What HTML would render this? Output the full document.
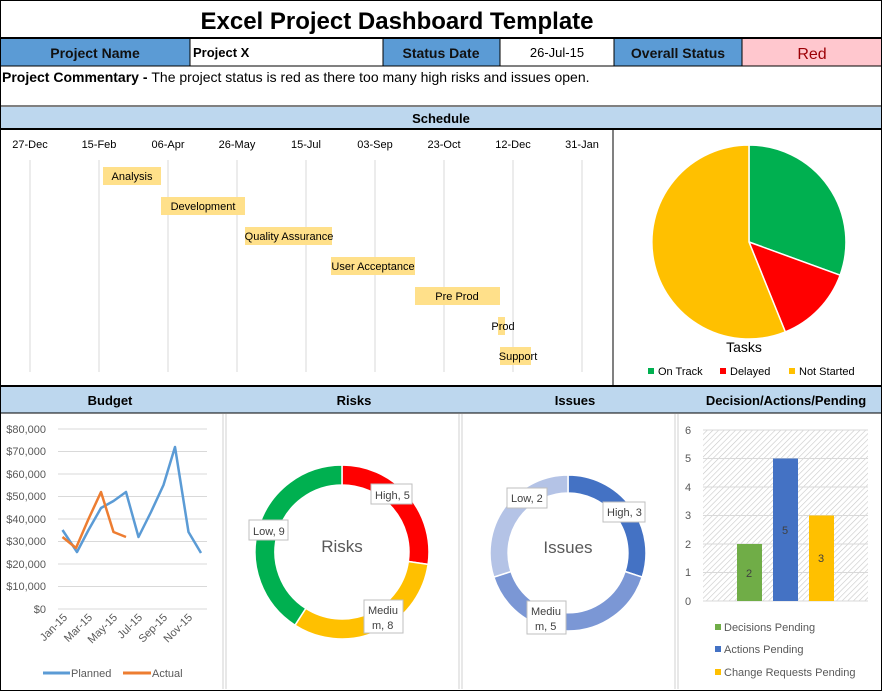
<!DOCTYPE html>
<html><head><meta charset="utf-8"><style>
body{margin:0;background:#fff}
svg{display:block;font-family:"Liberation Sans",sans-serif}
</style></head><body>
<svg width="882" height="691" viewBox="0 0 882 691" xmlns="http://www.w3.org/2000/svg">
<defs>
<pattern id="hatch" width="4" height="4" patternUnits="userSpaceOnUse" patternTransform="rotate(45)">
<rect width="4" height="4" fill="#fff"/><line x1="0" y1="0" x2="0" y2="4" stroke="#c8c8c8" stroke-width="1.2"/>
</pattern>
</defs>
<rect width="882" height="691" fill="#fff"/>
<!-- title -->
<text x="397" y="29" font-size="24" font-weight="bold" text-anchor="middle" fill="#000">Excel Project Dashboard Template</text>
<line x1="0" y1="38" x2="882" y2="38" stroke="#000" stroke-width="2"/>
<!-- header row -->
<rect x="0" y="39" width="190" height="27" fill="#5b9bd5"/>
<rect x="383" y="39" width="117" height="27" fill="#5b9bd5"/>
<rect x="614" y="39" width="128" height="27" fill="#5b9bd5"/>
<rect x="742" y="39" width="140" height="27" fill="#ffc7ce"/>
<g stroke="#000" stroke-width="1"><line x1="190" y1="38" x2="190" y2="66"/><line x1="383" y1="38" x2="383" y2="66"/><line x1="500" y1="38" x2="500" y2="66"/><line x1="614" y1="38" x2="614" y2="66"/><line x1="742" y1="38" x2="742" y2="66"/></g>
<line x1="0" y1="66" x2="882" y2="66" stroke="#000"/>
<g font-size="14" font-weight="bold" fill="#111" text-anchor="middle">
<text x="95" y="58">Project Name</text><text x="441" y="58">Status Date</text><text x="678" y="58">Overall Status</text></g>
<text x="193" y="57" font-size="13" font-weight="bold">Project X</text>
<text x="557" y="57" font-size="13" text-anchor="middle">26-Jul-15</text>
<text x="812" y="59" font-size="16" text-anchor="middle" fill="#9c0006">Red</text>
<text x="2" y="82" font-size="14"><tspan font-weight="bold">Project Commentary - </tspan>The project status is red as there too many high risks and issues open.</text>
<!-- schedule header -->
<line x1="0" y1="106" x2="882" y2="106" stroke="#000"/>
<rect x="0" y="107" width="882" height="22" fill="#bdd7ee"/>
<text x="441" y="123" font-size="13" font-weight="bold" text-anchor="middle">Schedule</text>
<line x1="0" y1="129" x2="882" y2="129" stroke="#000" stroke-width="2"/>
<line x1="613" y1="129" x2="613" y2="386" stroke="#000"/>
<!-- gantt -->
<g stroke="#d9d9d9"><line x1="30" y1="160" x2="30" y2="372"/><line x1="99" y1="160" x2="99" y2="372"/><line x1="168" y1="160" x2="168" y2="372"/><line x1="237" y1="160" x2="237" y2="372"/><line x1="306" y1="160" x2="306" y2="372"/><line x1="375" y1="160" x2="375" y2="372"/><line x1="444" y1="160" x2="444" y2="372"/><line x1="513" y1="160" x2="513" y2="372"/><line x1="582" y1="160" x2="582" y2="372"/></g>
<g font-size="11" text-anchor="middle" fill="#000"><text x="30" y="148">27-Dec</text><text x="99" y="148">15-Feb</text><text x="168" y="148">06-Apr</text><text x="237" y="148">26-May</text><text x="306" y="148">15-Jul</text><text x="375" y="148">03-Sep</text><text x="444" y="148">23-Oct</text><text x="513" y="148">12-Dec</text><text x="582" y="148">31-Jan</text></g>
<g fill="#ffe08a"><rect x="103" y="167" width="58" height="18"/><rect x="161" y="197" width="84" height="18"/><rect x="245" y="227" width="87" height="18"/><rect x="331" y="257" width="84" height="18"/><rect x="415" y="287" width="85" height="18"/><rect x="498" y="317" width="7" height="18"/><rect x="500" y="347" width="31" height="18"/></g>
<g font-size="11" text-anchor="middle" fill="#000"><text x="132" y="180">Analysis</text><text x="203" y="210">Development</text><text x="289" y="240">Quality Assurance</text><text x="373" y="270">User Acceptance</text><text x="457" y="300">Pre Prod</text><text x="503" y="330">Prod</text><text x="518" y="360">Support</text></g>
<!-- pie -->
<g transform="translate(749,242)">
<path d="M0,0 L0,-97 A97,97 0 0 1 91.1,33.2 Z" fill="#00b050" stroke="#fff" stroke-width="1.5"/>
<path d="M0,0 L91.1,33.2 A97,97 0 0 1 36.3,89.9 Z" fill="#ff0000" stroke="#fff" stroke-width="1.5"/>
<path d="M0,0 L36.3,89.9 A97,97 0 1 1 0,-97 Z" fill="#ffc000" stroke="#fff" stroke-width="1.5"/>
</g>
<text x="744" y="352" font-size="14" text-anchor="middle">Tasks</text>
<g font-size="11"><rect x="648" y="368" width="6" height="6" fill="#00b050"/><text x="658" y="375">On Track</text>
<rect x="720" y="368" width="6" height="6" fill="#ff0000"/><text x="730" y="375">Delayed</text>
<rect x="789" y="368" width="6" height="6" fill="#ffc000"/><text x="799" y="375">Not Started</text></g>
<!-- bottom headers -->
<line x1="0" y1="386" x2="882" y2="386" stroke="#000" stroke-width="2"/>
<rect x="0" y="387" width="882" height="26" fill="#bdd7ee"/>
<line x1="0" y1="413" x2="882" y2="413" stroke="#000"/>
<g font-size="13" font-weight="bold" text-anchor="middle"><text x="110" y="405">Budget</text><text x="354" y="405">Risks</text><text x="575" y="405">Issues</text><text x="786" y="405">Decision/Actions/Pending</text></g>
<g stroke="#d0d0d0"><line x1="223" y1="414" x2="223" y2="689"/><line x1="226" y1="414" x2="226" y2="689"/><line x1="459" y1="414" x2="459" y2="689"/><line x1="462" y1="414" x2="462" y2="689"/><line x1="675" y1="414" x2="675" y2="689"/><line x1="678" y1="414" x2="678" y2="689"/></g>
<!-- budget -->
<g stroke="#d9d9d9"><line x1="58" y1="429" x2="207" y2="429"/><line x1="58" y1="451.5" x2="207" y2="451.5"/><line x1="58" y1="474" x2="207" y2="474"/><line x1="58" y1="496.5" x2="207" y2="496.5"/><line x1="58" y1="519" x2="207" y2="519"/><line x1="58" y1="541.5" x2="207" y2="541.5"/><line x1="58" y1="564" x2="207" y2="564"/><line x1="58" y1="586.5" x2="207" y2="586.5"/><line x1="58" y1="609" x2="207" y2="609"/></g>
<g font-size="11" fill="#595959" text-anchor="end"><text x="46" y="433">$80,000</text><text x="46" y="455">$70,000</text><text x="46" y="478">$60,000</text><text x="46" y="500">$50,000</text><text x="46" y="523">$40,000</text><text x="46" y="545">$30,000</text><text x="46" y="568">$20,000</text><text x="46" y="590">$10,000</text><text x="46" y="613">$0</text></g>
<polyline fill="none" stroke="#5b9bd5" stroke-width="2.5" stroke-linejoin="round" points="62.5,530 77,552 88.5,530 101,508 113.5,501 126,492 138.5,537 151,512 163.5,485 175,447 188.5,532 201,553"/>
<polyline fill="none" stroke="#ed7d31" stroke-width="2.5" stroke-linejoin="round" points="62.5,537 76,548 88.5,519 101,492 113.5,532 126,537"/>
<g font-size="11" fill="#595959" text-anchor="end">
<text transform="translate(68,618) rotate(-45)">Jan-15</text><text transform="translate(93,618) rotate(-45)">Mar-15</text><text transform="translate(118,618) rotate(-45)">May-15</text><text transform="translate(143,618) rotate(-45)">Jul-15</text><text transform="translate(168,618) rotate(-45)">Sep-15</text><text transform="translate(193,618) rotate(-45)">Nov-15</text></g>
<line x1="43" y1="673" x2="70" y2="673" stroke="#5b9bd5" stroke-width="3"/><text x="71" y="677" font-size="11" fill="#595959">Planned</text>
<line x1="123" y1="673" x2="151" y2="673" stroke="#ed7d31" stroke-width="3"/><text x="152" y="677" font-size="11" fill="#595959">Actual</text>
<!-- risks donut -->
<g transform="translate(342,552)" stroke="#fff" stroke-width="1.5">
<path d="M0,-87 A87,87 0 0 1 86.1,12.4 L66.3,9.5 A67,67 0 0 0 0,-67 Z" fill="#ff0000"/>
<path d="M86.1,12.4 A87,87 0 0 1 -47,73.2 L-36.2,56.4 A67,67 0 0 0 66.3,9.5 Z" fill="#ffc000"/>
<path d="M-47,73.2 A87,87 0 0 1 0,-87 L0,-67 A67,67 0 0 0 -36.2,56.4 Z" fill="#00b050"/>
</g>
<text x="342" y="552" font-size="17" fill="#595959" text-anchor="middle">Risks</text>
<g font-size="11" fill="#404040"><rect x="371" y="484" width="41" height="20" fill="#fff" stroke="#bfbfbf"/><text x="375" y="499">High, 5</text>
<rect x="249" y="520" width="39" height="20" fill="#fff" stroke="#bfbfbf"/><text x="253" y="535">Low, 9</text>
<rect x="364" y="600" width="39" height="33" fill="#fff" stroke="#bfbfbf"/><text x="368" y="614">Mediu</text><text x="372" y="629">m, 8</text></g>
<!-- issues donut -->
<g transform="translate(568,553)" stroke="#fff" stroke-width="1.5">
<path d="M0,-78 A78,78 0 0 1 74.2,24.1 L57,18.5 A60,60 0 0 0 0,-60 Z" fill="#4472c4"/>
<path d="M74.2,24.1 A78,78 0 0 1 -74.2,24.1 L-57,18.5 A60,60 0 0 0 57,18.5 Z" fill="#7b97d5"/>
<path d="M-74.2,24.1 A78,78 0 0 1 0,-78 L0,-60 A60,60 0 0 0 -57,18.5 Z" fill="#b4c3e6"/>
</g>
<text x="568" y="553" font-size="17" fill="#595959" text-anchor="middle">Issues</text>
<g font-size="11" fill="#404040"><rect x="603" y="502" width="42" height="20" fill="#fff" stroke="#bfbfbf"/><text x="607" y="516">High, 3</text>
<rect x="507" y="488" width="40" height="20" fill="#fff" stroke="#bfbfbf"/><text x="511" y="502">Low, 2</text>
<rect x="527" y="601" width="39" height="33" fill="#fff" stroke="#bfbfbf"/><text x="531" y="615">Mediu</text><text x="535" y="630">m, 5</text></g>
<!-- bar chart -->
<rect x="703" y="430" width="165" height="171" fill="url(#hatch)"/>
<g stroke="#d9d9d9"><line x1="703" y1="430" x2="868" y2="430"/><line x1="703" y1="458.5" x2="868" y2="458.5"/><line x1="703" y1="487" x2="868" y2="487"/><line x1="703" y1="515.5" x2="868" y2="515.5"/><line x1="703" y1="544" x2="868" y2="544"/><line x1="703" y1="572.5" x2="868" y2="572.5"/><line x1="703" y1="601" x2="868" y2="601"/></g>
<g font-size="11" fill="#595959" text-anchor="middle"><text x="688" y="434">6</text><text x="688" y="462">5</text><text x="688" y="491">4</text><text x="688" y="519">3</text><text x="688" y="548">2</text><text x="688" y="576">1</text><text x="688" y="605">0</text></g>
<rect x="737" y="544" width="25" height="57" fill="#70ad47"/>
<rect x="773" y="458.5" width="25" height="142.5" fill="#4472c4"/>
<rect x="809" y="515.5" width="25" height="85.5" fill="#ffc000"/>
<g font-size="11" fill="#404040" text-anchor="middle"><text x="749" y="577">2</text><text x="785" y="534">5</text><text x="821" y="562">3</text></g>
<g font-size="11" fill="#595959"><rect x="715" y="624" width="6" height="6" fill="#70ad47"/><text x="724" y="631">Decisions Pending</text>
<rect x="715" y="646" width="6" height="6" fill="#4472c4"/><text x="724" y="653">Actions Pending</text>
<rect x="715" y="669" width="6" height="6" fill="#ffc000"/><text x="724" y="676">Change Requests Pending</text></g>
<rect x="0.5" y="0.5" width="881" height="690" fill="none" stroke="#000"/>
</svg>
</body></html>
